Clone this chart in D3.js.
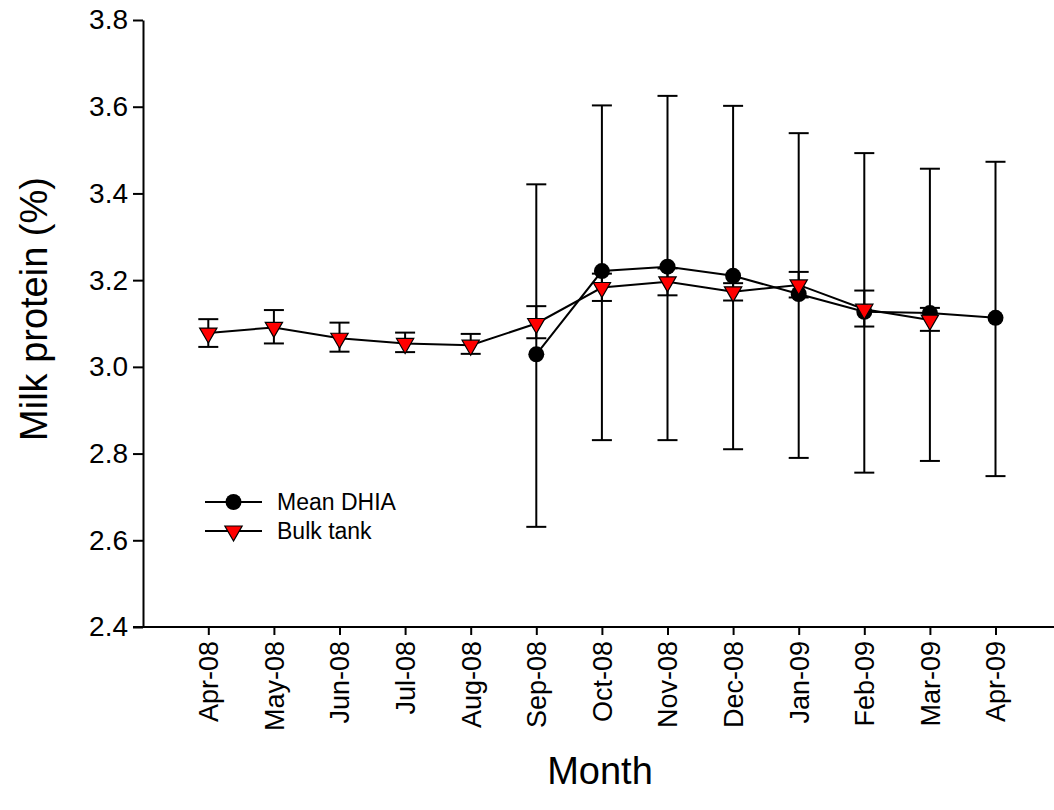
<!DOCTYPE html>
<html>
<head>
<meta charset="utf-8">
<script src="https://cdn.jsdelivr.net/npm/d3@7"></script>
<style>
  html, body { margin: 0; padding: 0; background: #fff; }
  svg { display: block; }
  text { font-family: "Liberation Sans", Arial, sans-serif; fill: #000; }
</style>
</head>
<body>
<svg id="chart" width="1054" height="810"></svg>
<script>
const months = ["Apr-08","May-08","Jun-08","Jul-08","Aug-08","Sep-08","Oct-08","Nov-08","Dec-08","Jan-09","Feb-09","Mar-09","Apr-09"];
const dhiaMean = [null,null,null,null,null,3.029,3.221,3.231,3.210,3.168,3.127,3.124,3.113];
const dhiaLow  = [null,null,null,null,null,2.631,2.831,2.831,2.810,2.790,2.756,2.783,2.748];
const dhiaHigh = [null,null,null,null,null,3.421,3.603,3.625,3.602,3.539,3.493,3.457,3.473];
const bulkMean = [3.078,3.091,3.066,3.054,3.050,3.100,3.183,3.196,3.173,3.189,3.133,3.108,null];
const bulkLow  = [3.046,3.054,3.035,3.034,3.030,3.066,3.152,3.165,3.153,3.160,3.093,3.083,null];
const bulkHigh = [3.110,3.131,3.102,3.079,3.076,3.140,3.215,3.227,3.193,3.219,3.176,3.136,null];
const yTicks = [2.4,2.6,2.8,3.0,3.2,3.4,3.6,3.8];
const seriesNames = ["Mean DHIA","Bulk tank"];

const svg = d3.select("#chart");
const x = d3.scalePoint().domain(months).range([208.3, 995.5]);
const y = d3.scaleLinear().domain([2.4, 3.8]).range([627, 20]);
const axisLeftX = 143;

// Y axis
const yAxis = svg.append("g").attr("transform", `translate(${axisLeftX},0)`)
  .call(d3.axisLeft(y).tickValues(yTicks).tickFormat(d3.format(".1f")).tickSize(10).tickSizeOuter(0).tickPadding(5));
yAxis.select(".domain").attr("stroke", "#000").attr("stroke-width", 2);
yAxis.selectAll(".tick line").attr("stroke", "#000").attr("stroke-width", 2);
yAxis.selectAll(".tick text").style("font-size", "28px").attr("font-family", null);

// X axis
const xAxis = svg.append("g").attr("transform", `translate(0,${y(2.4)})`)
  .call(d3.axisBottom(x).tickSize(8).tickSizeOuter(0));
xAxis.select(".domain").remove();
xAxis.append("line").attr("x1", axisLeftX - 10).attr("x2", 1054).attr("y1", 0).attr("y2", 0)
  .attr("stroke", "#000").attr("stroke-width", 2);
xAxis.selectAll(".tick line").attr("stroke", "#000").attr("stroke-width", 2);
xAxis.selectAll(".tick text")
  .style("font-size", "27px").attr("font-family", null)
  .attr("transform", "rotate(-90)")
  .attr("text-anchor", "end")
  .attr("x", -14).attr("y", 0).attr("dy", "0.35em");

// Axis titles
svg.append("text").attr("transform", "translate(47,309) rotate(-90)")
  .attr("text-anchor", "middle").style("font-size", "38px").text("Milk protein (%)");
svg.append("text").attr("x", 600).attr("y", 784)
  .attr("text-anchor", "middle").style("font-size", "38px").text("Month");

const plot = svg.append("g");
const idx = d3.range(months.length);

function errorBars(mean, low, high) {
  const g = plot.append("g");
  idx.filter(i => mean[i] != null).forEach(i => {
    const cx = x(months[i]);
    g.append("line").attr("x1", cx).attr("x2", cx).attr("y1", y(low[i])).attr("y2", y(high[i]))
      .attr("stroke", "#000").attr("stroke-width", 2);
    [low[i], high[i]].forEach(v => {
      g.append("line").attr("x1", cx - 10).attr("x2", cx + 10).attr("y1", y(v)).attr("y2", y(v))
        .attr("stroke", "#000").attr("stroke-width", 2);
    });
  });
}
function seriesLine(mean) {
  const line = d3.line().defined(i => mean[i] != null).x(i => x(months[i])).y(i => y(mean[i]));
  plot.append("path").attr("d", line(idx)).attr("fill", "none").attr("stroke", "#000").attr("stroke-width", 2);
}
const circleSym = d3.symbol().type(d3.symbolCircle).size(201);
const triSym = d3.symbol().type(d3.symbolTriangle).size(130);

// Mean DHIA
errorBars(dhiaMean, dhiaLow, dhiaHigh);
seriesLine(dhiaMean);
plot.append("g").selectAll("path").data(idx.filter(i => dhiaMean[i] != null)).join("path")
  .attr("d", circleSym)
  .attr("transform", i => `translate(${x(months[i])},${y(dhiaMean[i])})`)
  .attr("fill", "#000");

// Bulk tank
errorBars(bulkMean, bulkLow, bulkHigh);
seriesLine(bulkMean);
plot.append("g").selectAll("path").data(idx.filter(i => bulkMean[i] != null)).join("path")
  .attr("d", triSym)
  .attr("transform", i => `translate(${x(months[i])},${y(bulkMean[i])}) rotate(180)`)
  .attr("fill", "#ff0000").attr("stroke", "#000").attr("stroke-width", 1.2);

// Legend
const legend = svg.append("g");
const legY = [502, 531];
seriesNames.forEach((name, k) => {
  legend.append("line").attr("x1", 205).attr("x2", 262).attr("y1", legY[k]).attr("y2", legY[k])
    .attr("stroke", "#000").attr("stroke-width", 2);
  if (k === 0) {
    legend.append("path").attr("d", circleSym).attr("transform", `translate(233.5,${legY[k]})`).attr("fill", "#000");
  } else {
    legend.append("path").attr("d", triSym).attr("transform", `translate(233.5,${legY[k]}) rotate(180)`)
      .attr("fill", "#ff0000").attr("stroke", "#000").attr("stroke-width", 1.2);
  }
  legend.append("text").attr("x", 277).attr("y", legY[k]).attr("dy", "0.35em")
    .style("font-size", "23px").text(name);
});
</script>
</body>
</html>
